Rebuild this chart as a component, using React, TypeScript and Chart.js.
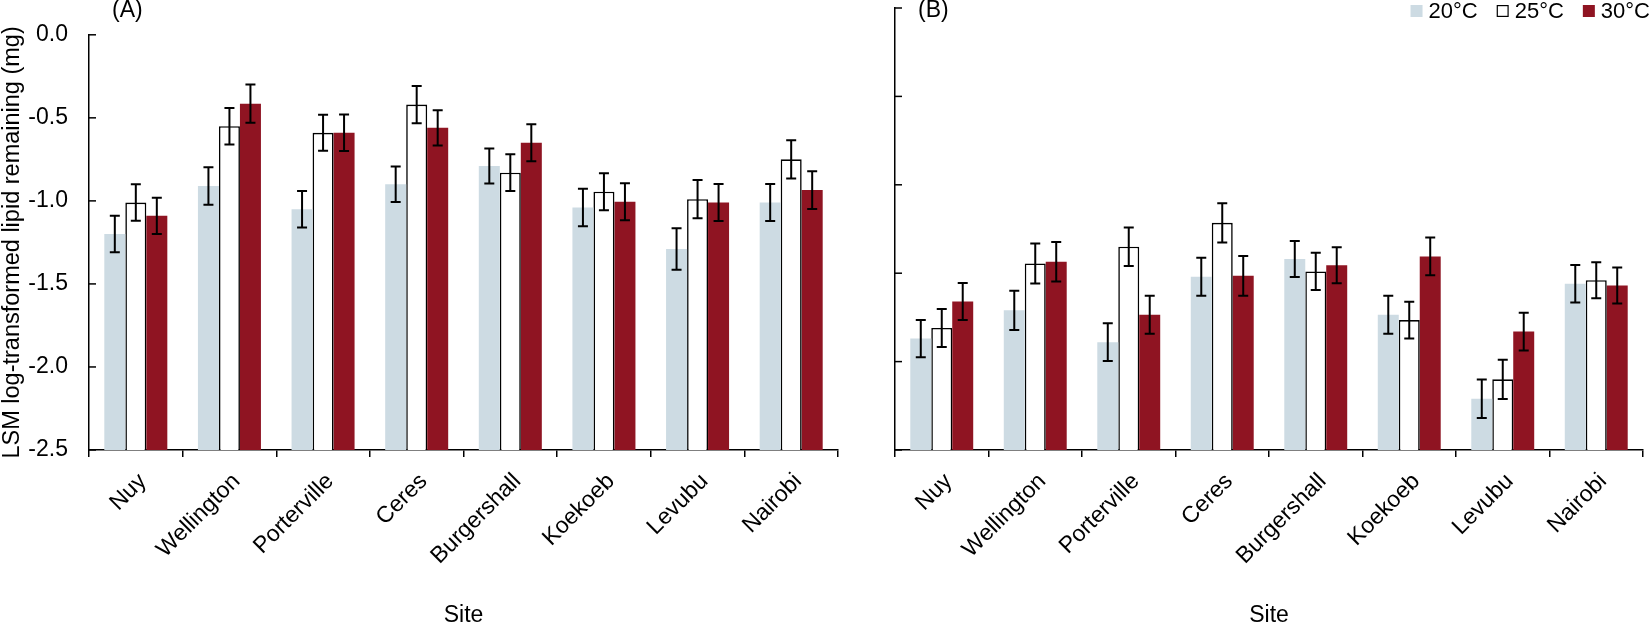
import React, { useEffect, useRef } from 'react';
import { Chart, registerables } from 'chart.js';

Chart.register(...registerables);

const FONT = "'Liberation Sans', Arial, Helvetica, sans-serif";

// ---------- data ----------
const sites = ['Nuy', 'Wellington', 'Porterville', 'Ceres', 'Burgershall', 'Koekoeb', 'Levubu', 'Nairobi'];
const seriesLabels = ['20°C', '25°C', '30°C'];
const yTicks = [0, -0.5, -1.0, -1.5, -2.0, -2.5];

const a20 = [-1.2, -0.91, -1.05, -0.9, -0.79, -1.04, -1.29, -1.01];
const a20err = [0.11, 0.113, 0.11, 0.107, 0.106, 0.113, 0.125, 0.111];
const a25 = [-1.01, -0.55, -0.59, -0.42, -0.83, -0.945, -0.99, -0.75];
const a25err = [0.11, 0.11, 0.108, 0.112, 0.111, 0.112, 0.115, 0.115];
const a30 = [-1.09, -0.415, -0.59, -0.56, -0.65, -1.005, -1.01, -0.935];
const a30err = [0.109, 0.115, 0.11, 0.106, 0.112, 0.111, 0.111, 0.114];

const b20 = [-1.87, -1.71, -1.89, -1.52, -1.42, -1.735, -2.21, -1.56];
const b20err = [0.105, 0.111, 0.107, 0.107, 0.102, 0.107, 0.109, 0.106];
const b25 = [-1.81, -1.445, -1.35, -1.215, -1.49, -1.765, -2.1, -1.54];
const b25err = [0.107, 0.113, 0.109, 0.111, 0.105, 0.104, 0.111, 0.102];
const b30 = [-1.66, -1.435, -1.735, -1.515, -1.455, -1.405, -1.83, -1.57];
const b30err = [0.104, 0.112, 0.107, 0.112, 0.102, 0.107, 0.107, 0.102];

// ---------- styles ----------
const COL20 = '#cddbe3';
const COL25 = '#ffffff';
const COL30 = '#8f1422';

const panelPlugin = {
  id: 'panelExtras',
  afterDatasetsDraw(chart: any, _args: any, opts: any) {
    const ctx = chart.ctx;
    const ys = chart.scales.y;
    const area = chart.chartArea;
    ctx.save();
    // error bars
    const errs: number[][] = opts.errors || [];
    chart.data.datasets.forEach((ds: any, i: number) => {
      const meta = chart.getDatasetMeta(i);
      meta.data.forEach((bar: any, j: number) => {
        const v = ds.data[j];
        const e = errs[i][j];
        const x = bar.x;
        const y1 = ys.getPixelForValue(v + e);
        const y2 = ys.getPixelForValue(v - e);
        ctx.strokeStyle = '#000';
        ctx.lineWidth = 2;
        ctx.beginPath();
        ctx.moveTo(x, y1);
        ctx.lineTo(x, y2);
        ctx.moveTo(x - 5, y1);
        ctx.lineTo(x + 5, y1);
        ctx.moveTo(x - 5, y2);
        ctx.lineTo(x + 5, y2);
        ctx.stroke();
      });
    });
    // inward y ticks
    ctx.strokeStyle = '#000';
    ctx.lineWidth = 1.5;
    (opts.yTicks || []).forEach((t: number) => {
      const py = ys.getPixelForValue(t);
      ctx.beginPath();
      ctx.moveTo(area.left, py);
      ctx.lineTo(area.left + 7, py);
      ctx.stroke();
    });
    // panel label
    ctx.fillStyle = '#000';
    ctx.font = `23px ${FONT}`;
    ctx.textAlign = 'left';
    ctx.textBaseline = 'middle';
    ctx.fillText(opts.label, area.left + 23, 11);
    // legend
    if (opts.legend) {
      ctx.font = `22px ${FONT}`;
      const items = chart.data.datasets.map((d: any) => ({
        text: d.label,
        fill: d.backgroundColor,
        stroke: d.borderWidth > 0 ? '#000' : null,
      }));
      let x = chart.width;
      const cy = 11;
      for (let k = items.length - 1; k >= 0; k--) {
        const it = items[k];
        const tw = ctx.measureText(it.text).width;
        x -= tw;
        ctx.fillStyle = '#000';
        ctx.fillText(it.text, x, cy + 1);
        x -= 6 + 12;
        ctx.fillStyle = it.fill;
        ctx.fillRect(x, cy - 6, 12, 12);
        if (it.stroke) {
          ctx.strokeStyle = '#000';
          ctx.lineWidth = 1.2;
          ctx.strokeRect(x + 0.6, cy - 5.4, 10.8, 10.8);
        }
        x -= 19;
      }
    }
    ctx.restore();
  },
};

function Panel(props: {
  left: number;
  width: number;
  yWidth: number;
  rightPad: number;
  showY: boolean;
  label: string;
  legend: boolean;
  s20: number[];
  s25: number[];
  s30: number[];
  errs: number[][];
}) {
  const ref = useRef<HTMLCanvasElement | null>(null);
  useEffect(() => {
    if (!ref.current) return;
    const baseDs = {
      base: -2.5,
      barPercentage: 1.0,
      categoryPercentage: 0.673,
      borderSkipped: 'start' as const,
    };
    const chart = new Chart(ref.current, {
      type: 'bar',
      data: {
        labels: sites,
        datasets: [
          { ...baseDs, label: seriesLabels[0], data: props.s20, backgroundColor: COL20, borderWidth: 0 },
          { ...baseDs, label: seriesLabels[1], data: props.s25, backgroundColor: COL25, borderColor: '#000', borderWidth: 1.6 },
          { ...baseDs, label: seriesLabels[2], data: props.s30, backgroundColor: COL30, borderWidth: 0 },
        ],
      },
      options: {
        responsive: false,
        animation: false,
        devicePixelRatio: 1,
        layout: { padding: { top: 8, left: 0, right: props.rightPad, bottom: 0 } },
        plugins: {
          legend: { display: false },
          tooltip: { enabled: false },
          panelExtras: { errors: props.errs, yTicks, label: props.label, legend: props.legend },
        } as any,
        scales: {
          x: {
            offset: true,
            grid: {
              display: true,
              drawOnChartArea: false,
              drawTicks: true,
              tickLength: 7,
              color: '#000',
              lineWidth: 1.5,
              offset: true,
            },
            border: { display: true, color: '#000', width: 1.5 },
            ticks: {
              color: '#000',
              font: { family: FONT, size: 23 },
              maxRotation: 45,
              minRotation: 45,
              autoSkip: false,
              padding: 11,
              labelOffset: 7,
            },
            title: {
              display: true,
              text: 'Site',
              color: '#000',
              font: { family: FONT, size: 23 },
              padding: { top: 0, bottom: -4 },
            },
            afterFit: (scale: any) => {
              scale.height = 175;
            },
          },
          y: {
            min: -2.5,
            max: 0,
            afterBuildTicks: (scale: any) => {
              scale.ticks = yTicks.map((v) => ({ value: v }));
            },
            grid: { display: false, drawTicks: false },
            border: { display: true, color: '#000', width: 1.5 },
            ticks: {
              display: props.showY,
              color: '#000',
              font: { family: FONT, size: 23 },
              padding: 21,
              callback: (v: any) => Number(v).toFixed(1),
            },
            title: {
              display: props.showY,
              text: 'LSM log-transformed lipid remaining (mg)',
              color: '#000',
              font: { family: FONT, size: 23.5, lineHeight: 1 },
              padding: { top: 0.5, bottom: 0 },
            },
            afterFit: (scale: any) => {
              scale.width = props.yWidth;
            },
          },
        },
      },
      plugins: [panelPlugin],
    });
    return () => chart.destroy();
  }, []);
  return (
    <canvas
      ref={ref}
      width={props.width}
      height={625}
      style={{ position: 'absolute', left: props.left, top: 0, width: props.width, height: 625 }}
    />
  );
}

export default function App() {
  return (
    <div style={{ position: 'fixed', left: 0, top: 0, width: 1650, height: 625, background: '#fff' }}>
      <Panel
        left={0}
        width={860}
        yWidth={89}
        rightPad={22}
        showY={true}
        label="(A)"
        legend={false}
        s20={a20}
        s25={a25}
        s30={a30}
        errs={[a20err, a25err, a30err]}
      />
      <Panel
        left={860}
        width={790}
        yWidth={35}
        rightPad={7}
        showY={false}
        label="(B)"
        legend={true}
        s20={b20}
        s25={b25}
        s30={b30}
        errs={[b20err, b25err, b30err]}
      />
    </div>
  );
}
